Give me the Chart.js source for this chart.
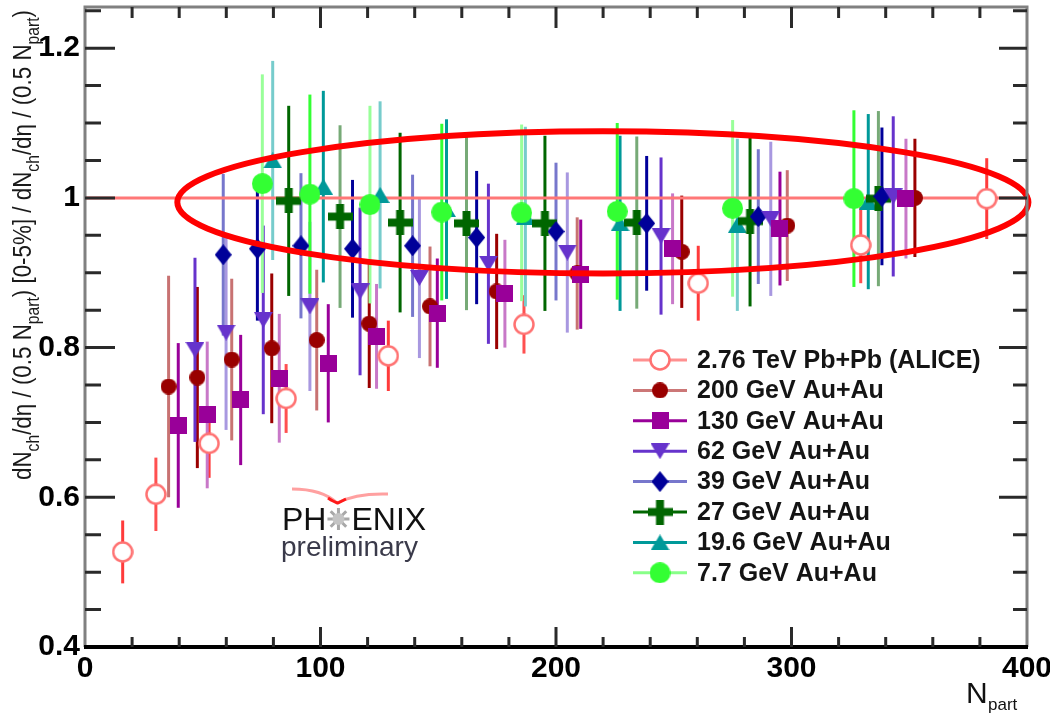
<!DOCTYPE html>
<html>
<head>
<meta charset="utf-8">
<script src="https://cdn.jsdelivr.net/npm/chart.js@4.4.1/dist/chart.umd.min.js"></script>
<style>
    html, body { margin: 0; padding: 0; background: #fff; }
</style>
</head>
<body>
<canvas id="myChart" width="1050" height="715"></canvas>
<script>
// axis ticks
var xTicks = [0, 100, 200, 300, 400];
var xTickLabels = ['0', '100', '200', '300', '400'];
var yTicks = [0.4, 0.6, 0.8, 1.0, 1.2];
var yTickLabels = ['0.4', '0.6', '0.8', '1', '1.2'];

// series names (legend order)
var seriesNames = ['2.76 TeV Pb+Pb (ALICE)', '200 GeV Au+Au', '130 GeV Au+Au', '62 GeV Au+Au',
    '39 GeV Au+Au', '27 GeV Au+Au', '19.6 GeV Au+Au', '7.7 GeV Au+Au'];

// Npart, ratio, error for each energy
var aliceN = [16, 30.1, 52.7, 85.4, 128.8, 186.4, 260.4, 329.4, 382.9];
var aliceV = [0.527, 0.604, 0.672, 0.732, 0.789, 0.831, 0.886, 0.937, 0.999];
var aliceE = [0.042, 0.049, 0.046, 0.046, 0.047, 0.039, 0.050, 0.051, 0.054];

var au200N = [35.5, 47.7, 62.3, 79.3, 98.4, 120.7, 146.5, 174.8, 209, 253.4, 298.2, 352.4];
var au200V = [0.748, 0.760, 0.784, 0.799, 0.810, 0.832, 0.855, 0.875, 0.899, 0.928, 0.963, 1.000];
var au200E = [0.148, 0.121, 0.108, 0.100, 0.094, 0.086, 0.080, 0.077, 0.075, 0.075, 0.074, 0.079];

var au130N = [39.6, 51.9, 66.1, 82.5, 103.3, 123.8, 149.6, 178.3, 210.5, 249.5, 295.1, 348.6];
var au130V = [0.696, 0.710, 0.730, 0.759, 0.779, 0.815, 0.846, 0.872, 0.898, 0.932, 0.959, 0.999];
var au130E = [0.110, 0.098, 0.087, 0.086, 0.079, 0.070, 0.073, 0.072, 0.073, 0.074, 0.076, 0.080];

var au62N = [46.7, 59.9, 75.7, 95.5, 116.8, 142.0, 171.3, 204.8, 244.6, 291.2, 343.2];
var au62V = [0.797, 0.820, 0.837, 0.855, 0.875, 0.893, 0.912, 0.927, 0.949, 0.972, 1.002];
var au62E = [0.123, 0.130, 0.126, 0.113, 0.112, 0.107, 0.107, 0.107, 0.105, 0.103, 0.107];

var au39N = [58.7, 73.2, 91.7, 113.6, 139.1, 166.3, 200.0, 238.5, 285.9, 338.4];
var au39V = [0.924, 0.932, 0.936, 0.932, 0.936, 0.947, 0.955, 0.966, 0.975, 1.002];
var au39E = [0.108, 0.096, 0.097, 0.092, 0.095, 0.089, 0.092, 0.090, 0.090, 0.092];

var au27N = [86.5, 108.3, 133.8, 162.0, 195.3, 234.3, 282.4, 336.9];
var au27V = [0.996, 0.975, 0.967, 0.966, 0.966, 0.967, 0.969, 0.999];
var au27E = [0.127, 0.122, 0.120, 0.116, 0.117, 0.115, 0.114, 0.117];

var au19N = [79.7, 101.2, 125.3, 153.5, 187.0, 227.2, 277.0, 332.6];
var au19V = [1.050, 1.015, 1.004, 0.985, 0.975, 0.966, 0.964, 0.995];
var au19E = [0.133, 0.128, 0.125, 0.120, 0.120, 0.117, 0.115, 0.117];

var au7N = [75.3, 95.5, 121.0, 151.5, 185.4, 226.0, 275.0, 326.5];
var au7V = [1.019, 1.005, 0.991, 0.981, 0.980, 0.982, 0.986, 0.999];
var au7E = [0.146, 0.133, 0.132, 0.118, 0.118, 0.118, 0.118, 0.118];

// highlight ellipse in data units
var ellCx = 219.9, ellCy = 0.994, ellRx = 180.7, ellRy = 0.095;

var FONT = '"Liberation Sans", Arial, sans-serif';

// marker images
function makeMarker(kind, color, w, h) {
    var c = document.createElement('canvas');
    c.width = w; c.height = h;
    var g = c.getContext('2d');
    g.fillStyle = color;
    g.beginPath();
    if (kind === 'open') {
        g.arc(w / 2, h / 2, w / 2 - 1.5, 0, Math.PI * 2);
        g.fillStyle = '#fff';
        g.fill();
        g.lineWidth = 2.5;
        g.strokeStyle = color;
        g.stroke();
        return c;
    }
    if (kind === 'circle') g.arc(w / 2, h / 2, w / 2, 0, Math.PI * 2);
    if (kind === 'square') g.rect(0, 0, w, h);
    if (kind === 'tri') { g.moveTo(w / 2, 0); g.lineTo(w, h); g.lineTo(0, h); }
    if (kind === 'tridown') { g.moveTo(0, 0); g.lineTo(w, 0); g.lineTo(w / 2, h); }
    if (kind === 'diamond') { g.moveTo(w / 2, 0); g.lineTo(w, h / 2); g.lineTo(w / 2, h); g.lineTo(0, h / 2); }
    if (kind === 'cross') {
        var a = 8;
        g.rect(0, (h - a) / 2, w, a);
        g.rect((w - a) / 2, 0, a, h);
    }
    g.closePath();
    g.fill();
    return c;
}

var series = [
    { n: aliceN, v: aliceV, e: aliceE, img: makeMarker('open', '#ff7272', 22, 22), err: ['#ff3b3b', '#ff5050'], leg: '#ff9090', order: 0 },
    { n: au200N, v: au200V, e: au200E, img: makeMarker('circle', '#990000', 16, 16), err: ['#c87272', '#9a0000'], leg: '#cc7777', order: 7 },
    { n: au130N, v: au130V, e: au130E, img: makeMarker('square', '#990099', 17, 17), err: ['#990099', '#c878c8'], leg: '#990099', order: 1 },
    { n: au62N, v: au62V, e: au62E, img: makeMarker('tridown', '#6633cc', 19, 16), err: ['#6633cc', '#a898e0'], leg: '#6633cc', order: 2 },
    { n: au39N, v: au39V, e: au39E, img: makeMarker('diamond', '#000099', 17, 21), err: ['#7777cc', '#000099'], leg: '#7777cc', order: 3 },
    { n: au27N, v: au27V, e: au27E, img: makeMarker('cross', '#006600', 25, 25), err: ['#006600', '#77aa77'], leg: '#006600', order: 5 },
    { n: au19N, v: au19V, e: au19E, img: makeMarker('tri', '#009999', 19, 16), err: ['#77cccc', '#009999'], leg: '#009999', order: 6 },
    { n: au7N, v: au7V, e: au7E, img: makeMarker('circle', '#33ff33', 21, 21), err: ['#99ff99', '#33ff33'], leg: '#88ff88', order: 4 }
];

var datasets = series.map(function (s, k) {
    return {
        label: seriesNames[k],
        data: s.n.map(function (x, i) { return { x: x, y: s.v[i] }; }),
        pointStyle: s.img,
        pointRadius: 6,
        showLine: false,
        order: s.order
    };
});

// no extra room for the edge labels, the frame is fixed
function noPad(s) {
    s.paddingTop = 0; s.paddingBottom = 0; s.paddingLeft = 0; s.paddingRight = 0;
}

var decorPlugin = {
    id: 'decor',
    beforeDatasetsDraw: function (chart) {
        var c = chart.ctx, xs = chart.scales.x, ys = chart.scales.y, a = chart.chartArea;
        c.save();
        // error bars
        c.lineWidth = 3;
        series.forEach(function (s) {
            s.n.forEach(function (n, i) {
                var px = xs.getPixelForValue(n);
                c.strokeStyle = s.err[i % 2];
                c.beginPath();
                c.moveTo(px, ys.getPixelForValue(s.v[i] + s.e[i]));
                c.lineTo(px, ys.getPixelForValue(s.v[i] - s.e[i]));
                c.stroke();
            });
        });
        // reference line at 1
        var y1 = ys.getPixelForValue(1);
        c.strokeStyle = '#ff7777';
        c.lineWidth = 3;
        c.beginPath();
        c.moveTo(a.left, y1);
        c.lineTo(a.right, y1);
        c.stroke();
        c.restore();
    },
    afterDatasetsDraw: function (chart) {
        var c = chart.ctx, xs = chart.scales.x, ys = chart.scales.y;
        var cx = xs.getPixelForValue(ellCx), cy = ys.getPixelForValue(ellCy);
        var rx = xs.getPixelForValue(ellCx + ellRx) - cx;
        var ry = cy - ys.getPixelForValue(ellCy + ellRy);
        c.save();
        c.strokeStyle = '#ff0000';
        c.lineWidth = 6;
        c.beginPath();
        c.ellipse(cx, cy, rx, ry, 0, 0, Math.PI * 2);
        c.stroke();
        c.restore();
    },
    afterDraw: function (chart) {
        var c = chart.ctx, xs = chart.scales.x, ys = chart.scales.y, a = chart.chartArea;
        c.save();
        // frame
        c.lineWidth = 3;
        c.strokeStyle = '#808080';
        c.beginPath();
        c.moveTo(a.left, a.bottom); c.lineTo(a.left, a.top); c.lineTo(a.right, a.top); c.lineTo(a.right, a.bottom);
        c.stroke();
        c.strokeStyle = '#000';
        c.lineWidth = 4;
        c.beginPath();
        c.moveTo(a.left - 1, a.bottom); c.lineTo(a.right + 1, a.bottom);
        c.stroke();
        // inward ticks
        c.lineWidth = 3;
        c.strokeStyle = '#2a2a2a';
        var v, p, len;
        for (v = 20; v < 400; v += 20) {
            p = xs.getPixelForValue(v);
            len = v % 100 === 0 ? 20 : 10;
            c.beginPath();
            c.moveTo(p, a.bottom); c.lineTo(p, a.bottom - len);
            c.moveTo(p, a.top); c.lineTo(p, a.top + len + 1);
            c.stroke();
        }
        for (v = 0.45; v < 1.251; v += 0.05) {
            var r = Math.round(v * 100);
            p = ys.getPixelForValue(r / 100);
            len = r % 20 === 0 ? 30 : 16;
            c.beginPath();
            c.moveTo(a.left, p); c.lineTo(a.left + len, p);
            c.moveTo(a.right, p); c.lineTo(a.right - len + 2, p);
            c.stroke();
        }

        // legend
        c.textBaseline = 'middle';
        c.font = 'bold 25px ' + FONT;
        series.forEach(function (s, k) {
            var ly = 360 + k * 30.4;
            c.strokeStyle = s.leg;
            c.lineWidth = 3;
            c.beginPath();
            c.moveTo(633, ly); c.lineTo(687, ly);
            c.stroke();
            c.drawImage(s.img, 660 - s.img.width / 2, ly - s.img.height / 2);
            c.fillStyle = '#141414';
            c.fillText(seriesNames[k], 697, ly + 1);
        });

        // PHENIX logo
        c.textBaseline = 'alphabetic';
        c.font = '32px ' + FONT;
        c.fillStyle = '#111';
        c.fillText('PH', 282, 530);
        var wPH = c.measureText('PH').width;
        var sx = 282 + wPH + 12, sy = 519;
        c.strokeStyle = '#a8a8a8';
        c.lineWidth = 3;
        for (var t = 0; t < 8; t++) {
            var ang = t * Math.PI / 4;
            c.beginPath();
            c.moveTo(sx, sy);
            c.lineTo(sx + Math.cos(ang) * 11, sy + Math.sin(ang) * 11);
            c.stroke();
        }
        c.fillStyle = '#c4c4c4';
        c.beginPath(); c.arc(sx, sy, 6, 0, Math.PI * 2); c.fill();
        c.fillStyle = '#111';
        c.fillText('ENIX', 282 + wPH + 25, 530);
        c.font = '28px ' + FONT;
        c.fillStyle = '#3a3a4a';
        c.fillText('preliminary', 281, 556);
        c.strokeStyle = '#ffa0a0';
        c.lineWidth = 3;
        c.beginPath();
        c.moveTo(292, 489);
        c.quadraticCurveTo(322, 489, 337, 503);
        c.quadraticCurveTo(356, 493, 388, 494);
        c.stroke();
        c.strokeStyle = '#ff1a1a';
        c.beginPath();
        c.moveTo(328, 498);
        c.quadraticCurveTo(334, 502, 338, 503);
        c.quadraticCurveTo(342, 501, 346, 499);
        c.stroke();

        // y title, rotated, with subscripts
        var parts = [['dN', 0], ['ch', 1], ['/d\u03b7 / (0.5 N', 0], ['part', 1], [') [0-5%] / dN', 0], ['ch', 1],
            ['/d\u03b7 / (0.5 N', 0], ['part', 1], [')', 0]];
        var mainF = '20px ' + FONT, subF = '14px ' + FONT;
        var total = 0;
        parts.forEach(function (q) { c.font = q[1] ? subF : mainF; total += c.measureText(q[0]).width; });
        var target = 470, scx = target / total;
        c.translate(31, 245);
        c.rotate(-Math.PI / 2);
        c.scale(scx, 1.3);
        c.fillStyle = '#1a1a1a';
        var pos = -total / 2;
        parts.forEach(function (q) {
            c.font = q[1] ? subF : mainF;
            c.fillText(q[0], pos, q[1] ? 6 : 0);
            pos += c.measureText(q[0]).width;
        });
        c.restore();

        // x title
        c.save();
        c.fillStyle = '#111';
        c.textBaseline = 'alphabetic';
        c.font = '30px ' + FONT;
        c.fillText('N', 966, 703);
        c.font = '17px ' + FONT;
        c.fillText('part', 988, 710);
        c.restore();
    }
};

var ctx = document.getElementById('myChart');
var myChart = new Chart(ctx, {
    type: 'scatter',
    data: { datasets: datasets },
    options: {
        responsive: false,
        animation: false,
        devicePixelRatio: 1,
        events: [],
        layout: { padding: { top: 6, right: 23, left: 0, bottom: 0 } },
        plugins: {
            legend: { display: false },
            tooltip: { enabled: false },
            title: { display: false }
        },
        scales: {
            x: {
                type: 'linear',
                min: 0,
                max: 400,
                afterBuildTicks: function (s) { s.ticks = xTicks.map(function (v) { return { value: v }; }); },
                afterFit: function (s) { s.height = 68; noPad(s); },
                grid: { display: false, drawTicks: false },
                border: { display: false },
                ticks: {
                    padding: 4,
                    color: '#000',
                    maxRotation: 0,
                    autoSkip: false,
                    font: { family: FONT, size: 30, weight: 'bold' },
                    callback: function (v, i) { return xTickLabels[i]; }
                }
            },
            y: {
                type: 'linear',
                min: 0.4,
                max: 1.255,
                afterBuildTicks: function (s) { s.ticks = yTicks.map(function (v) { return { value: v }; }); },
                afterFit: function (s) { s.width = 85; noPad(s); },
                grid: { display: false, drawTicks: false },
                border: { display: false },
                ticks: {
                    padding: 5,
                    color: '#000',
                    autoSkip: false,
                    font: { family: FONT, size: 30, weight: 'bold' },
                    callback: function (v, i) { return yTickLabels[i]; }
                }
            }
        }
    },
    plugins: [decorPlugin]
});
</script>
</body>
</html>
